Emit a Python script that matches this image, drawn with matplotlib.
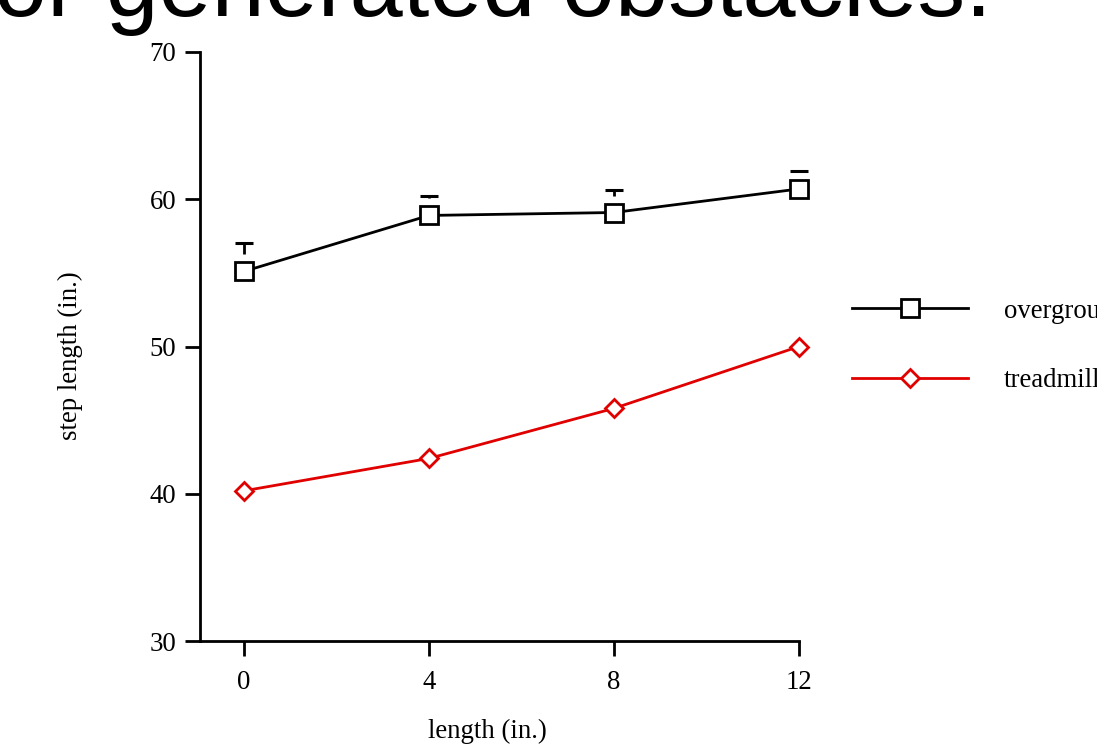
import matplotlib
matplotlib.use('Agg')
from matplotlib import pyplot as plt

# data
lengths = [0, 4, 8, 12]
overground = [55.1, 58.9, 59.1, 60.7]
overground_err = [1.9, 1.3, 1.5, 1.2]
treadmill = [40.2, 42.4, 45.8, 50.0]
series_labels = ['overground', 'treadmill']
title_text = 'or generated obstacles.'

plt.rcParams['font.family'] = ['Liberation Serif', 'DejaVu Serif']
fs = 19.3

fig = plt.figure(figsize=(10.97, 7.48), dpi=100)
ax = fig.add_axes([0.1823, 0.1430, 0.7284 - 0.1823, 0.9305 - 0.1430])

# overground with upper error bars only
eb = ax.errorbar(lengths, overground, yerr=[[0] * 4, overground_err], fmt='none',
                 ecolor='black', elinewidth=2.0, capsize=6.5, capthick=2.2,
                 clip_on=False, zorder=1)
for cl in eb[1]:
    cl.set_zorder(3)
# white halo under the squares, hides the foot of the stems
ax.plot(lengths, overground, ls='none', marker='s', ms=24, mfc='white', mec='none',
        clip_on=False, zorder=2)
ax.plot(lengths, overground, color='black', lw=2.0, marker='s', ms=13,
        mfc='white', mec='black', mew=2.0, clip_on=False, zorder=4,
        label=series_labels[0])
ax.plot(lengths, treadmill, color='#e00000', lw=2.0, marker='D', ms=9.2,
        mfc='white', mec='#e00000', mew=2.0, clip_on=False, zorder=4,
        label=series_labels[1])

ax.set_xlim(-0.95, 12)
ax.set_ylim(30, 70)
ax.set_xticks(lengths)
ax.set_yticks([30, 40, 50, 60, 70])

for s in ['top', 'right']:
    ax.spines[s].set_visible(False)
for s in ['left', 'bottom']:
    ax.spines[s].set_linewidth(2.0)
ax.tick_params(direction='out', length=11, width=2.0, labelsize=fs)
ax.tick_params(axis='x', pad=10)
ax.tick_params(axis='y', pad=6)

xl = ax.set_xlabel('length (in.)', fontsize=fs)
ax.xaxis.set_label_coords(0.479, -0.153)
xl.set_va('center')
yl = ax.set_ylabel('step length (in.)', fontsize=fs)
ax.yaxis.set_label_coords(-0.217, 0.484)
yl.set_va('center')

ax.legend(loc='center left', bbox_to_anchor=(1.07, 0.501), frameon=False,
          fontsize=fs, handlelength=4.33, handletextpad=1.34, labelspacing=1.65,
          borderaxespad=0)

fig.text(-0.0055, 1 - 16 / 748, title_text, family='Liberation Sans',
         fontsize=68.8, ha='left', va='baseline')

fig.savefig('out.png', dpi=100)
